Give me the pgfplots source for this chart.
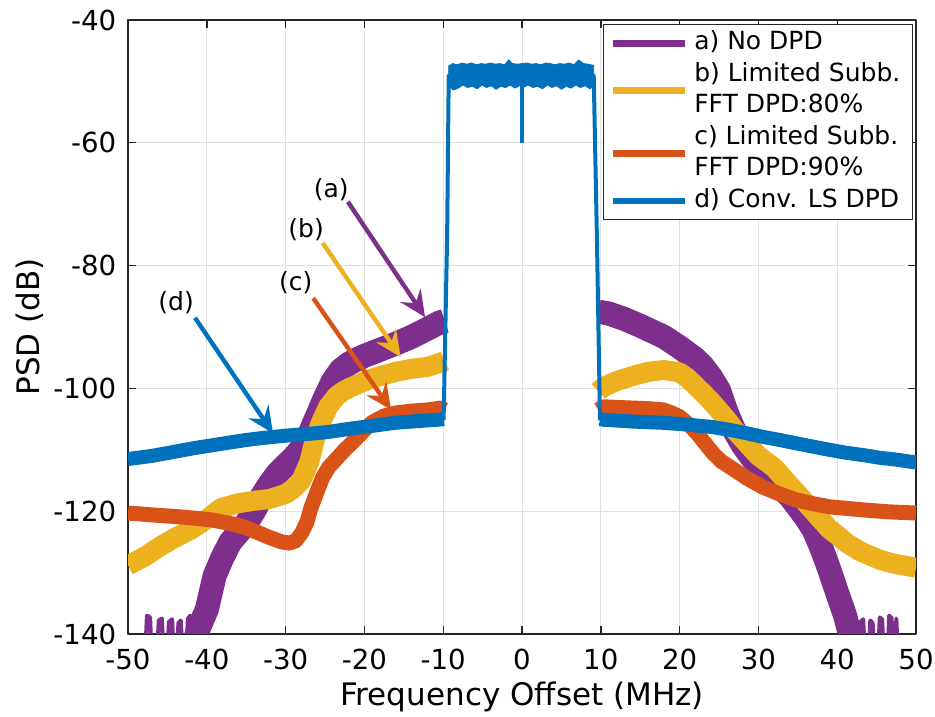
\documentclass[border=0pt]{standalone}
\usepackage{fontspec}
\setmainfont{DejaVu Sans}
\usepackage{pgfplots}
\pgfplotsset{compat=1.18}
\usetikzlibrary{arrows.meta}
\definecolor{mpurple}{HTML}{7E2F8E}
\definecolor{myellow}{HTML}{EDB120}
\definecolor{mred}{HTML}{D95319}
\definecolor{mblue}{HTML}{0072BD}
\newcommand{\lgd}[1]{\begin{tabular}{@{}l@{}}#1\end{tabular}}
\begin{document}
\begin{tikzpicture}
\begin{axis}[
  at={(0,0)}, anchor=south west, scale only axis,
  width=394pt, height=307pt,
  xmin=-50, xmax=50, ymin=-140, ymax=-40,
  xtick={-50,-40,...,50}, ytick={-140,-120,...,-40},
  grid=major, major grid style={color=black!12, line width=0.5pt},
  axis line style={color=black!85, line width=0.7pt},
  every tick/.style={color=black!85, line width=0.7pt},
  major tick length=4pt, tick align=inside,
  /pgf/number format/assume math mode=true,
  tick label style={font=\fontsize{13.8}{16}\selectfont, color=black},
  xticklabel style={yshift=-3.8pt},
  yticklabel style={xshift=-2.4pt},
  xlabel={Frequency Offset (MHz)}, ylabel={PSD (dB)},
  xlabel style={at={(axis description cs:0.5,-0.1026)}, anchor=center, font=\fontsize{15.5}{18}\selectfont},
  ylabel style={at={(axis description cs:-0.1244,0.5)}, anchor=center, font=\fontsize{15.5}{18}\selectfont},
  legend cell align=left,
  legend style={at={(1,1)}, anchor=north east, xshift=-1.5pt, yshift=-2pt,
    draw=black!85, line width=0.6pt, fill=white,
    font=\fontsize{12.5}{15.75}\selectfont,
    row sep=0pt, inner xsep=3pt, inner ysep=1.5pt,
    nodes={inner ysep=0pt, inner xsep=3pt, text depth=}},
  legend image code/.code={\draw[line width=3.2pt] (0pt,0pt) -- (36pt,0pt);},
  line join=round,
]
% (a) No DPD
\addplot[mpurple, line width=12pt] coordinates {
(-41.8,-142) (-41,-139) (-40,-136) (-39,-130.5) (-38,-127.5) (-37,-125) (-36,-123.5)
(-35,-122) (-34,-120) (-33,-117.5) (-32,-115.5) (-31,-113.8) (-30,-112.5) (-29,-111.3)
(-28,-109.8) (-27,-107.5) (-26,-104.5) (-25,-101.5) (-24,-98.8) (-23,-97) (-22,-96)
(-21,-95.3) (-20,-94.7) (-18,-93.7) (-16,-92.7) (-14,-91.6) (-12,-90.3) (-10.5,-89.3) (-9.8,-89)};
\addlegendentry{\lgd{a) No DPD}}
\addplot[mpurple, line width=12pt, forget plot] coordinates {
(9.7,-87.5) (11,-87.8) (13,-88.7) (15,-89.8) (17,-91) (18,-91.6) (20,-93.3) (22,-95.2)
(23,-96.5) (24,-98.2) (25,-100.3) (26,-104) (27,-107) (28,-109.2) (29,-111) (30,-112.6)
(31,-113.8) (32,-115.2) (33,-116.4) (34,-117.6) (35,-119.3) (36,-121) (37,-123) (38,-126)
(39,-129.5) (40,-133.3) (41,-137) (41.8,-141)};
\addplot[mpurple, line width=2pt, forget plot] coordinates {
(-47.8,-143) (-47.6,-137) (-47.2,-137.3) (-47,-143) (-46.3,-143) (-46.1,-137.8) (-45.7,-137.5)
(-45.5,-143) (-45,-143) (-44.8,-138) (-44.4,-137.6) (-44.2,-143) (-43.8,-143) (-43.6,-138.2)
(-43.3,-137.8) (-43.1,-143) (-42.6,-143) (-42.4,-137.5) (-42.1,-137) (-41.9,-143)};
\addplot[mpurple, line width=2pt, forget plot] coordinates {
(41.6,-143) (41.8,-137.5) (42.1,-137.8) (42.3,-143) (42.8,-143) (43,-138) (43.3,-137.6)
(43.5,-143) (44,-143) (44.2,-137.8) (44.5,-138.2) (44.7,-143) (45.2,-143) (45.4,-137.3)
(45.7,-137.6) (45.9,-143) (46.4,-143) (46.6,-137) (46.9,-137.4) (47.1,-143) (47.4,-143)
(47.5,-137.5) (47.7,-143)};
% (b) Limited Subb. FFT DPD 80%
\addplot[myellow, line width=10pt] coordinates {
(-50,-128.8) (-48,-127.5) (-46,-125.8) (-44,-124.3) (-42,-123) (-40,-121.3) (-38.2,-119.5)
(-36,-118.7) (-34,-118.3) (-32,-118) (-30,-117.2) (-29,-116.3) (-28,-115) (-27,-112)
(-26.3,-108.4) (-25.5,-105.5) (-24.6,-103) (-23.5,-101.2) (-22.5,-100.3) (-21,-99.4)
(-19.5,-98.6) (-18,-98) (-16,-97.3) (-14,-96.8) (-12,-96.5) (-10.3,-95.8) (-9.8,-95.5)};
\addlegendentry{\lgd{b) Limited Subb.\\FFT DPD:80\%}}
\addplot[myellow, line width=10pt, forget plot] coordinates {
(9.7,-100.5) (10.3,-99.8) (12,-98.8) (14,-98) (16,-97.3) (18,-97) (20,-97.4) (21,-98.3)
(22.2,-99.8) (23,-100.8) (24.2,-102.4) (25,-103.6) (26,-105.1) (27,-106.8) (28.5,-108.9)
(30,-111) (32,-112.9) (34,-115.8) (35,-117.2) (36,-118.6) (37.8,-121.2) (39,-122.9)
(40,-123.9) (41.2,-125.2) (43,-126.6) (45.4,-127.9) (47,-128.5) (50,-129.2)};
% (c) Limited Subb. FFT DPD 90%
\addplot[mred, line width=7.5pt] coordinates {
(-50,-120.3) (-47,-120.6) (-43.6,-120.9) (-41,-121.2) (-39.5,-121.4) (-37,-122) (-35.2,-122.6)
(-33.5,-123.5) (-32.2,-124.2) (-30.5,-125) (-29.5,-125.2) (-28.7,-124.8) (-28,-123.6)
(-27.3,-121.8) (-26.8,-119.5) (-26,-116.8) (-25.3,-114.5) (-24.5,-112.8) (-23.7,-111.7)
(-22.5,-110) (-21.2,-108.4) (-20,-106.8) (-19.1,-105.6) (-17.5,-104.5) (-16.1,-104)
(-14,-103.7) (-11.9,-103.5) (-10.3,-103.2) (-9.8,-103.5)};
\addlegendentry{\lgd{c) Limited Subb.\\FFT DPD:90\%}}
\addplot[mred, line width=7.5pt, forget plot] coordinates {
(9.7,-103.5) (10.3,-103) (12,-103.1) (14,-103.2) (16,-103.3) (17.9,-103.5) (19,-104)
(20,-104.6) (21,-105.7) (22.2,-107.3) (23.2,-108.9) (24.2,-110.5) (25.3,-111.9) (26.4,-112.8)
(28.5,-114.6) (30.6,-116.1) (32.5,-117.1) (34.9,-118.2) (37,-118.8) (39.1,-119.3)
(43.4,-119.8) (46.5,-120.1) (50,-120.3)};
% (d) Conv. LS DPD
\addplot[mblue, line width=7pt] coordinates {
(-50,-111.5) (-47,-111) (-44,-110.3) (-41.5,-109.7) (-38,-109) (-35,-108.4) (-33.1,-108.1)
(-30,-107.7) (-27,-107.4) (-24.6,-107.1) (-22,-106.6) (-19,-106.1) (-16.1,-105.6)
(-13,-105.3) (-10.7,-105.1) (-9.9,-105)};
\addlegendentry{\lgd{d) Conv. LS DPD}}
\addplot[mblue, line width=7pt, forget plot] coordinates {
(9.9,-105) (10.3,-105.1) (14,-105.4) (17.9,-105.6) (21,-105.9) (24.2,-106.3) (26.5,-106.8)
(28.5,-107.3) (30.6,-107.9) (32.7,-108.4) (35,-109) (37,-109.5) (39,-110) (41.2,-110.5)
(43.5,-110.9) (45.4,-111.3) (47.5,-111.6) (49.6,-112) (50,-112)};
\addplot[mblue, line width=2pt, forget plot] coordinates {
(-9.95,-105.2) (-9.5,-75) (-9.3,-49) (9.1,-49) (9.5,-75) (9.9,-105.2)};
\addplot[mblue, fill=mblue, line width=0.4pt, forget plot] coordinates {
(-9.3,-47.5) (-8.8,-47.1) (-8.2,-47.3) (-7.6,-47.0) (-7.0,-47.2) (-6.4,-47.0) (-5.8,-47.3)
(-5.2,-47.1) (-4.6,-47.2) (-4.0,-47.0) (-3.4,-47.2) (-2.8,-47.1) (-2.2,-47.3) (-1.7,-46.5)
(-1.2,-47.1) (-0.6,-47.2) (0,-47.1) (0.6,-47.0) (1.2,-47.2) (1.8,-47.1) (2.4,-47.3)
(3.0,-47.0) (3.6,-47.1) (4.2,-47.3) (4.8,-47.1) (5.4,-47.2) (6.0,-47.0) (6.6,-47.3)
(7.2,-46.5) (7.8,-47.1) (8.4,-47.2) (9.1,-47.4)
(9.1,-50.8) (8.6,-51.2) (8.0,-50.7) (7.4,-51.0) (6.8,-50.6) (6.2,-51.1) (5.6,-50.8)
(5.0,-51.3) (4.4,-50.7) (3.8,-51.0) (3.2,-50.6) (2.6,-51.2) (2.0,-50.8) (1.4,-51.0)
(0.8,-50.6) (0.3,-50.9) (-0.3,-50.7) (-0.9,-51.1) (-1.5,-50.6) (-2.1,-51.0) (-2.7,-50.8)
(-3.3,-51.3) (-3.9,-50.7) (-4.5,-51.0) (-5.1,-50.6) (-5.7,-51.2) (-6.3,-50.8) (-6.9,-51.0)
(-7.5,-50.6) (-8.1,-51.1) (-8.7,-51.4) (-9.3,-50.8)} -- cycle;
\addplot[mblue, line width=1.6pt, forget plot] coordinates {(0,-50) (0,-60)};
% annotations
\begin{scope}[line width=2.2pt, arrows={-Stealth[length=13pt, width=12pt, inset=4.5pt]},
  every node/.style={font=\fontsize{12.5}{15}\selectfont, text=black}]
\draw[mpurple] (axis cs:-22.1,-69.6) -- (axis cs:-12.3,-88.4);
\draw[myellow] (axis cs:-25.3,-76.3) -- (axis cs:-15.4,-94.9);
\draw[mred] (axis cs:-26.5,-85.3) -- (axis cs:-16.6,-103.5);
\draw[mblue] (axis cs:-41.5,-88.5) -- (axis cs:-31.6,-107.3);
\node at (axis cs:-24.2,-67.7) {(a)};
\node at (axis cs:-27.4,-74.2) {(b)};
\node at (axis cs:-28.7,-82.8) {(c)};
\node at (axis cs:-43.9,-86.1) {(d)};
\end{scope}
\end{axis}
\pgfresetboundingbox
\path (-64pt,-41pt) rectangle (403.5pt,317pt);
\end{tikzpicture}
\end{document}
